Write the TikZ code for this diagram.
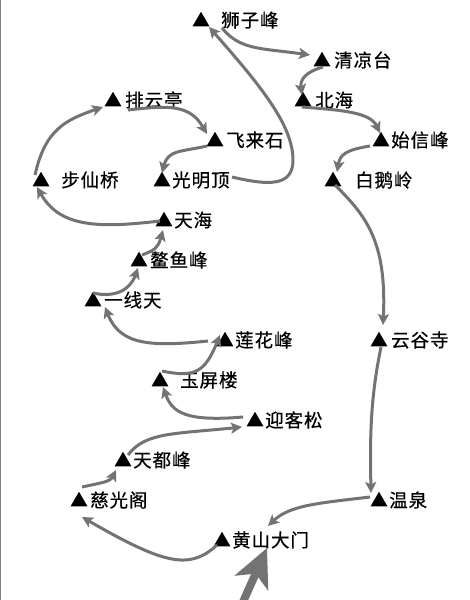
\documentclass[tikz,border=0pt]{standalone}
\usepackage{fontspec}
\newfontfamily\cjk[LetterSpace=5,FakeBold=0.5]{Noto Sans CJK SC}
\usetikzlibrary{arrows.meta,shapes.geometric}
\tikzset{
  peak/.style={regular polygon,regular polygon sides=3,fill=black,inner sep=0pt,minimum size=19.5pt},
  lab/.style={anchor=west,inner sep=0pt,font=\fontsize{18.5pt}{18.5pt}\cjk,text=black},
  link/.style={draw=black!55,line width=3pt,-{Stealth[length=11pt,width=11pt,inset=2.5pt]}},
  bigarrow/.style={draw=black!55,line width=8pt,-{Stealth[length=38pt,width=36pt,inset=10pt]}}
}
\newcommand{\spot}[5]{%
  \node[peak] (#1) at (#2,#3+1.5) {};
  \node[lab] (#1t) at (#4,#3) {#5};
}
\begin{document}
\begin{tikzpicture}[x=1pt,y=-1pt]
\useasboundingbox (0,0) rectangle (469,600);
\fill[white] (0,0) rectangle (469,600);
\fill[black!50] (0,0) rectangle (1,600);
\spot{shi}{201}{20}{221}{狮子峰}
\spot{qing}{322}{60}{334}{清凉台}
\spot{bei}{303}{100}{315}{北海}
\spot{sx}{381}{140}{391}{始信峰}
\spot{bai}{333}{180}{355}{白鹅岭}
\spot{yg}{379}{340}{391}{云谷寺}
\spot{wq}{379}{500}{389}{温泉}
\spot{gate}{222}{540}{232}{黄山大门}
\spot{ci}{79}{500}{90}{慈光阁}
\spot{du}{123}{460}{133}{天都峰}
\spot{ying}{255}{420}{265}{迎客松}
\spot{yu}{160}{380}{180}{玉屏楼}
\spot{lian}{225}{340}{235}{莲花峰}
\spot{yx}{93}{300}{104}{一线天}
\spot{ao}{139}{260}{150}{鳌鱼峰}
\spot{th}{164}{220}{174}{天海}
\spot{bu}{41}{180}{61}{步仙桥}
\spot{pai}{113}{100}{125}{排云亭}
\spot{fei}{215}{140}{226}{飞来石}
\spot{gm}{162}{180}{172}{光明顶}
\coordinate (bigstart) at (243,602);
\coordinate (bigtip) at (267,548);
\coordinate (gatein) at (268,526);
\draw[bigarrow] (bigstart) -- (bigtip);
\draw[link] ([shift={(-9,-4.5)}]wq.center) .. controls (320,503) and (290,505) .. (gatein);
\draw[link] ([shift={(-5,3.5)}]gate.center) .. controls (190,570) and (165,565) .. ([shift={(3,15.5)}]ci.center);
\draw[link] ([shift={(3,-14.5)}]ci.center) .. controls (100,483) and (110,482) .. ([shift={(-7,8.5)}]du.center);
\draw[link] ([shift={(5,-6.5)}]du.center) .. controls (145,432) and (175,434) .. ([shift={(-13,5.5)}]ying.center);
\draw[link] ([shift={(-12,-4.5)}]ying.center) .. controls (185,422) and (172,412) .. ([shift={(3,5.5)}]yu.center);
\draw[link] ([shift={(2,-10.5)}]yu.center) .. controls (195,378) and (205,372) .. ([shift={(-5,-6.5)}]lian.center);
\draw[link] ([shift={(-17,-.5)}]lian.center) .. controls (150,347) and (120,345) .. ([shift={(12,5.5)}]yx.center);
\draw[link] ([shift={(0,-8.5)}]yx.center) .. controls (115,298) and (130,290) .. ([shift={(-1,6.5)}]ao.center);
\draw[link] ([shift={(3,-6.5)}]ao.center) .. controls (155,250) and (158,248) .. ([shift={(-1,8.5)}]th.center);
\draw[link] ([shift={(-4,-.5)}]th.center) .. controls (100,228) and (60,228) .. ([shift={(-4,5.5)}]bu.center);
\draw[link] ([shift={(-6,-6.5)}]bu.center) .. controls (45,130) and (65,120) .. ([shift={(-10,5.5)}]pai.center);
\draw[link] ([shift={(15,8.5)}]pai.center) .. controls (170,105) and (190,105) .. ([shift={(-8,-7.5)}]fei.center);
\draw[link] ([shift={(-8,4.5)}]fei.center) .. controls (180,152) and (168,150) .. ([shift={(0,-8.5)}]gm.center);
\draw[link] ([shift={(70,-4.5)}]gm.center) .. controls (270,186) and (293,186) .. (293,160) .. controls (293,125) and (260,85) .. ([shift={(8,5.5)}]shi.center);
\draw[link] ([shift={(21,6.5)}]shi.center) .. controls (240,50) and (260,48) .. ([shift={(-12,-6.5)}]qing.center);
\draw[link] ([shift={(1,5.5)}]qing.center) .. controls (305,72) and (300,80) .. ([shift={(-1,-6.5)}]bei.center);
\draw[link] ([shift={(-1,5.5)}]bei.center) .. controls (340,110) and (370,112) .. ([shift={(-1,-8.5)}]sx.center);
\draw[link] ([shift={(-11,4.5)}]sx.center) .. controls (345,150) and (340,155) .. ([shift={(4,-9.5)}]bai.center);
\draw[link] ([shift={(2,3.5)}]bai.center) .. controls (365,215) and (387,240) .. ([shift={(4,-16.5)}]yg.center);
\draw[link] ([shift={(2,5.5)}]yg.center) .. controls (370,400) and (370,440) .. ([shift={(-8,-8.5)}]wq.center);
\end{tikzpicture}
\end{document}
